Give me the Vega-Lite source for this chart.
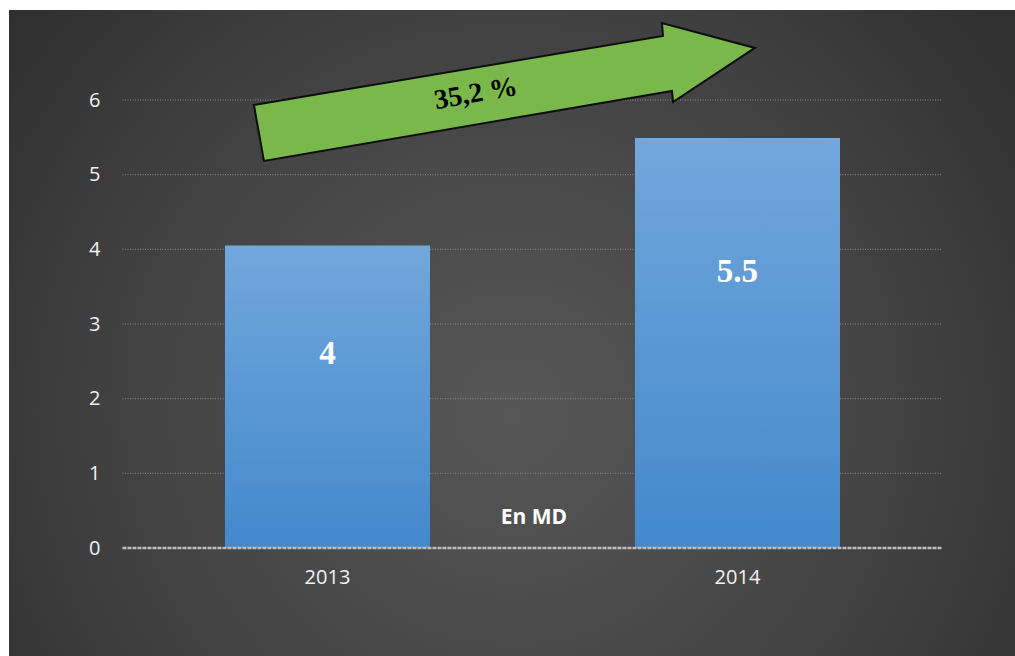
{
  "$schema": "https://vega.github.io/schema/vega-lite/v6.json",
  "width": 1006,
  "height": 646,
  "autosize": {"type": "none"},
  "padding": {"left": 9, "top": 10, "right": 0, "bottom": 0},
  "background": "#ffffff",
  "view": {
    "stroke": null,
    "fill": {
      "gradient": "radial",
      "x1": 0.5, "y1": 0.58, "x2": 0.5, "y2": 0.58,
      "r1": 0, "r2": 0.75,
      "stops": [
        {"offset": 0, "color": "#575757"},
        {"offset": 0.55, "color": "#404040"},
        {"offset": 1, "color": "#262626"}
      ]
    }
  },
  "config": {
    "axisX": {
      "labelAngle": 0, "grid": false, "ticks": false, "domain": false, "offset": -79,
      "labelPadding": 0, "labelBaseline": "middle", "labelFont": "Open Sans",
      "labelFontSize": 20, "labelColor": "#f2f2f2"
    },
    "axisY": {
      "grid": false, "ticks": false, "domain": false, "offset": -93, "labelPadding": 2,
      "labelFont": "Open Sans", "labelFontSize": 20, "labelColor": "#f2f2f2"
    }
  },
  "datasets": {
    "bars": [
      {"year": "2013", "value": 4.05, "label": "4"},
      {"year": "2014", "value": 5.49, "label": "5.5"}
    ],
    "grid": [{"v": 1}, {"v": 2}, {"v": 3}, {"v": 4}, {"v": 5}, {"v": 6}],
    "zero": [{"v": 0}]
  },
  "layer": [
    {
      "data": {"name": "grid"},
      "mark": {"type": "rule", "stroke": "#8f8f8f", "strokeWidth": 1, "strokeDash": [1, 1.5]},
      "encoding": {
        "y": {
          "field": "v", "type": "quantitative", "title": null,
          "scale": {"domain": [-1.4464, 7.2054], "nice": false, "zero": false},
          "axis": {"values": [0, 1, 2, 3, 4, 5, 6], "title": null}
        },
        "x": {
          "datum": "2013", "type": "nominal", "bandPosition": -0.5, "title": null,
          "scale": {"domain": ["2013", "2014"], "paddingInner": 0.5, "paddingOuter": 0.4768, "align": 0.5524}
        },
        "x2": {"datum": "2014", "bandPosition": 1.5}
      }
    },
    {
      "data": {"name": "bars"},
      "mark": {
        "type": "bar",
        "fill": {
          "gradient": "linear", "x1": 0, "y1": 0, "x2": 0, "y2": 1,
          "stops": [{"offset": 0, "color": "#71a7dc"}, {"offset": 1, "color": "#4389cc"}]
        }
      },
      "encoding": {
        "x": {
          "field": "year", "type": "nominal", "title": null,
          "scale": {"domain": ["2013", "2014"], "paddingInner": 0.5, "paddingOuter": 0.4768, "align": 0.5524}
        },
        "y": {
          "field": "value", "type": "quantitative", "title": null,
          "scale": {"domain": [-1.4464, 7.2054], "nice": false, "zero": false},
          "axis": {"values": [0, 1, 2, 3, 4, 5, 6], "title": null}
        },
        "y2": {"datum": 0}
      }
    },
    {
      "data": {"name": "zero"},
      "mark": {"type": "rule", "stroke": "#bdbdbd", "strokeWidth": 2.5, "strokeDash": [4, 1]},
      "encoding": {
        "y": {
          "field": "v", "type": "quantitative", "title": null,
          "scale": {"domain": [-1.4464, 7.2054], "nice": false, "zero": false},
          "axis": {"values": [0, 1, 2, 3, 4, 5, 6], "title": null}
        },
        "x": {
          "datum": "2013", "type": "nominal", "bandPosition": -0.5, "title": null,
          "scale": {"domain": ["2013", "2014"], "paddingInner": 0.5, "paddingOuter": 0.4768, "align": 0.5524}
        },
        "x2": {"datum": "2014", "bandPosition": 1.5}
      }
    },
    {
      "data": {"name": "bars"},
      "transform": [{"calculate": "datum.value * 0.7625 - 0.49", "as": "ly"}],
      "mark": {"type": "text", "font": "Liberation Serif", "fontWeight": "bold", "fontSize": 33, "color": "#ffffff", "baseline": "middle", "align": "center"},
      "encoding": {
        "x": {
          "field": "year", "type": "nominal", "title": null,
          "scale": {"domain": ["2013", "2014"], "paddingInner": 0.5, "paddingOuter": 0.4768, "align": 0.5524}
        },
        "y": {
          "field": "ly", "type": "quantitative", "title": null,
          "scale": {"domain": [-1.4464, 7.2054], "nice": false, "zero": false},
          "axis": {"values": [0, 1, 2, 3, 4, 5, 6], "title": null}
        },
        "text": {"field": "label"}
      }
    },
    {
      "data": {"values": [{"t": "En MD"}]},
      "mark": {"type": "text", "font": "Open Sans", "fontWeight": "bold", "fontSize": 21, "color": "#ffffff", "baseline": "middle", "align": "center"},
      "encoding": {
        "x": {
          "datum": "2013", "type": "nominal", "bandPosition": 1.507, "title": null,
          "scale": {"domain": ["2013", "2014"], "paddingInner": 0.5, "paddingOuter": 0.4768, "align": 0.5524}
        },
        "y": {
          "datum": 0.4, "type": "quantitative", "title": null,
          "scale": {"domain": [-1.4464, 7.2054], "nice": false, "zero": false},
          "axis": {"values": [0, 1, 2, 3, 4, 5, 6], "title": null}
        },
        "text": {"field": "t"}
      }
    },
    {
      "data": {"values": [{"growth": "35,2 %"}]},
      "mark": {
        "type": "point",
        "shape": "M -1 0.052 L 0.633 -0.224 L 0.629 -0.275 L 1 -0.176 L 0.673 0.04 L 0.669 -0.004 L -0.96 0.275 Z",
        "size": 251001,
        "filled": true,
        "fill": "#7ab84b",
        "stroke": "#0d0d0d",
        "strokeWidth": 2,
        "opacity": 1,
        "fillOpacity": 1,
        "strokeOpacity": 1
      },
      "encoding": {
        "x": {
          "datum": "2013", "type": "nominal", "bandPosition": 1.363, "title": null,
          "scale": {"domain": ["2013", "2014"], "paddingInner": 0.5, "paddingOuter": 0.4768, "align": 0.5524}
        },
        "y": {
          "datum": 6.107, "type": "quantitative", "title": null,
          "scale": {"domain": [-1.4464, 7.2054], "nice": false, "zero": false},
          "axis": {"values": [0, 1, 2, 3, 4, 5, 6], "title": null}
        }
      }
    },
    {
      "data": {"values": [{"growth": "35,2 %"}]},
      "mark": {"type": "text", "font": "Liberation Serif", "fontWeight": "bold", "fontSize": 28, "color": "#000000", "baseline": "middle", "align": "center", "angle": 350},
      "encoding": {
        "x": {
          "datum": "2013", "type": "nominal", "bandPosition": 1.224, "title": null,
          "scale": {"domain": ["2013", "2014"], "paddingInner": 0.5, "paddingOuter": 0.4768, "align": 0.5524}
        },
        "y": {
          "datum": 6.08, "type": "quantitative", "title": null,
          "scale": {"domain": [-1.4464, 7.2054], "nice": false, "zero": false},
          "axis": {"values": [0, 1, 2, 3, 4, 5, 6], "title": null}
        },
        "text": {"field": "growth"}
      }
    }
  ]
}
